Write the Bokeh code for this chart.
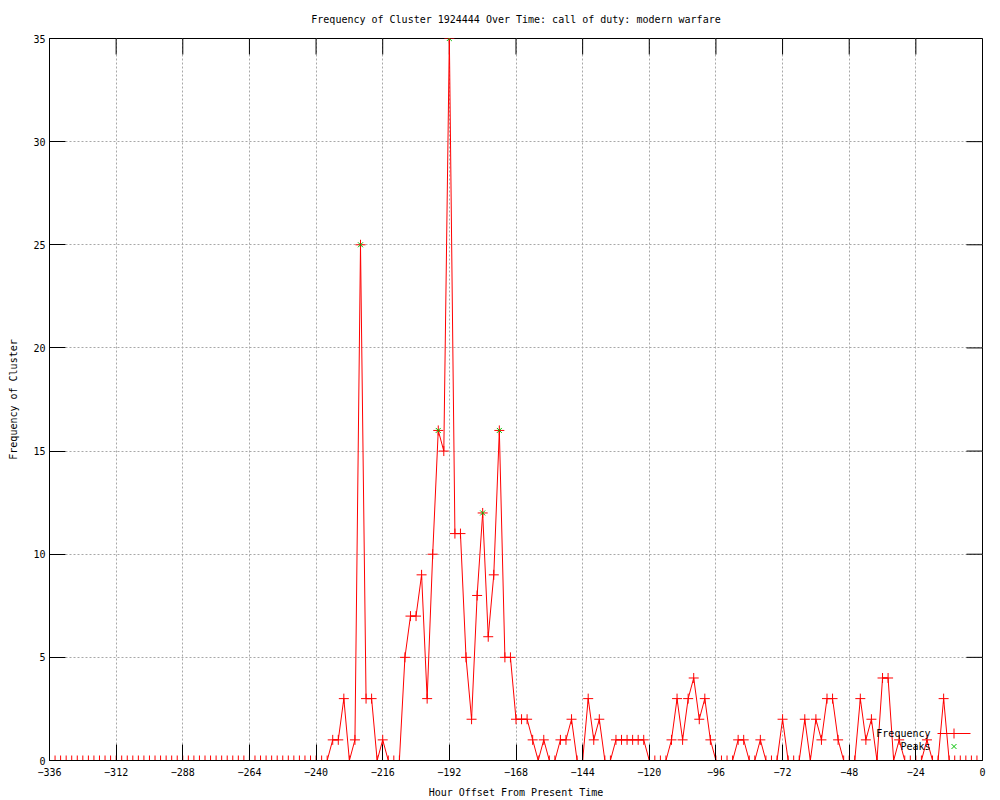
import math
from bokeh.plotting import figure
from bokeh.models import Range1d, FixedTicker, Label, LinearAxis
from bokeh.embed import file_html
from bokeh.resources import INLINE

# ---- data ----
hours = list(range(-336, 0, 2))  # hour offsets, every 2 hours
frequency = [0] * 51 + [
    1, 1, 3, 0, 1, 25, 3, 3, 0, 1,
    0, 0, 0, 5, 7, 7, 9, 3, 10, 16,
    15, 35, 11, 11, 5, 2, 8, 12, 6, 9,
    16, 5, 5, 2, 2, 2, 1, 0, 1, 0,
    0, 1, 1, 2, 0, 0, 3, 1, 2, 0,
    0, 1, 1, 1, 1, 1, 1, 0, 0, 0,
    0, 1, 3, 1, 3, 4, 2, 3, 1, 0,
    0, 0, 0, 1, 1, 0, 0, 1, 0, 0,
    0, 2, 0, 0, 0, 2, 0, 2, 1, 3,
    3, 1, 0, 0, 0, 3, 1, 2, 0, 4,
    4, 0, 1, 0, 0, 0, 0, 1, 0, 0,
    3, 0, 0, 0, 0, 0, 0,
]
peak_hours = [-224, -196, -192, -180, -174]
peak_values = [25, 16, 35, 12, 16]

x_ticks = [-336, -312, -288, -264, -240, -216, -192, -168, -144, -120, -96, -72, -48, -24, 0]
y_ticks = [0, 5, 10, 15, 20, 25, 30, 35]
X_MIN, X_MAX = -336, 0
Y_MIN, Y_MAX = 0, 35

title_text = "Frequency of Cluster 1924444 Over Time: call of duty: modern warfare"
x_label = "Hour Offset From Present Time"
y_label = "Frequency of Cluster"
legend_labels = ["Frequency", "Peaks"]

# ---- style / layout constants ----
FONT = "DejaVu Sans Mono"
FS = "10px"
RED = "#ff0000"
GREEN = "#00c000"
W, H = 1000, 800
B_LEFT, B_RIGHT, B_TOP, B_BOTTOM = 49, 18, 38, 40
FRAME_W = W - B_LEFT - B_RIGHT
FRAME_H = H - B_TOP - B_BOTTOM
TICK_LEN = 16

p = figure(width=W, height=H, output_backend="svg", toolbar_location=None,
           x_range=Range1d(X_MIN, X_MAX), y_range=Range1d(Y_MIN, Y_MAX),
           min_border_left=B_LEFT, min_border_right=B_RIGHT,
           min_border_top=B_TOP, min_border_bottom=B_BOTTOM)
# pixel-space helper ranges for the legend block
p.extra_x_ranges = {"px_x": Range1d(0, FRAME_W)}
p.extra_y_ranges = {"px_y": Range1d(0, FRAME_H)}

p.outline_line_color = "black"
p.outline_line_width = 1
p.background_fill_color = "white"
p.border_fill_color = "white"

def style_axis(ax, ticks):
    ax.ticker = FixedTicker(ticks=ticks)
    ax.major_tick_in = TICK_LEN
    ax.major_tick_out = 0
    ax.minor_tick_in = 0
    ax.minor_tick_out = 0
    ax.axis_line_color = "black"
    ax.major_tick_line_color = "black"
    ax.major_label_text_font = FONT
    ax.major_label_text_font_size = FS
    ax.major_label_text_color = "black"
    ax.axis_label_text_font = FONT
    ax.axis_label_text_font_size = FS
    ax.axis_label_text_font_style = "normal"
    ax.axis_label_text_color = "black"

style_axis(p.xaxis[0], x_ticks)
style_axis(p.yaxis[0], y_ticks)
p.xaxis[0].axis_label = x_label
p.xaxis[0].major_label_standoff = 7
p.xaxis[0].axis_label_standoff = 8
p.yaxis[0].axis_label = y_label
p.yaxis[0].major_label_standoff = 4
p.yaxis[0].axis_label_standoff = 11

# title drawn as the label of a tick-less axis above the frame (centred on the frame)
title_ax = LinearAxis(axis_label=title_text)
style_axis(title_ax, [])
title_ax.major_tick_in = 0
title_ax.major_label_standoff = 0
title_ax.axis_label_standoff = 14
title_ax.axis_line_color = None
p.add_layout(title_ax, "above")

p.xgrid.ticker = FixedTicker(ticks=x_ticks[1:-1])
p.ygrid.ticker = FixedTicker(ticks=y_ticks[1:-1])
for g in (p.xgrid, p.ygrid):
    g.grid_line_color = "#a8a8a8"
    g.grid_line_dash = "2 2"
    g.grid_line_width = 1

# mirrored inward ticks on the top and right edges
p.ray(x=x_ticks, y=[Y_MAX] * len(x_ticks), length=TICK_LEN, length_units="screen",
      angle=-math.pi / 2, line_color="black", line_width=1)
p.ray(x=[X_MAX] * len(y_ticks), y=y_ticks, length=TICK_LEN, length_units="screen",
      angle=math.pi, line_color="black", line_width=1)

# data
p.line(hours, frequency, line_color=RED, line_width=1)
p.scatter(hours, frequency, marker="cross", size=10, line_color=RED, line_width=1)
p.scatter(peak_hours, peak_values, marker="x", size=7, line_color=GREEN, line_width=1)

# legend block (gnuplot style: label on the left, sample on the right), pixel offsets inside frame
LEG_TEXT_X = 881
LEG_SAMPLE_X0, LEG_SAMPLE_X1 = 888, 921
LEG_ROW_Y = [27, 14]
for lab, yy in zip(legend_labels, LEG_ROW_Y):
    p.add_layout(Label(x=LEG_TEXT_X, y=yy, x_range_name="px_x", y_range_name="px_y",
                       text=lab, text_align="right", text_baseline="middle",
                       text_font=FONT, text_font_size=FS, text_color="black"))
mid_x = (LEG_SAMPLE_X0 + LEG_SAMPLE_X1) / 2
p.line([LEG_SAMPLE_X0, LEG_SAMPLE_X1], [LEG_ROW_Y[0], LEG_ROW_Y[0]],
       x_range_name="px_x", y_range_name="px_y", line_color=RED, line_width=1)
p.scatter([mid_x], [LEG_ROW_Y[0]], x_range_name="px_x", y_range_name="px_y",
          marker="cross", size=10, line_color=RED, line_width=1)
p.scatter([mid_x], [LEG_ROW_Y[1]], x_range_name="px_x", y_range_name="px_y",
          marker="x", size=7, line_color=GREEN, line_width=1)

open("out.html", "w").write(file_html(p, INLINE))
